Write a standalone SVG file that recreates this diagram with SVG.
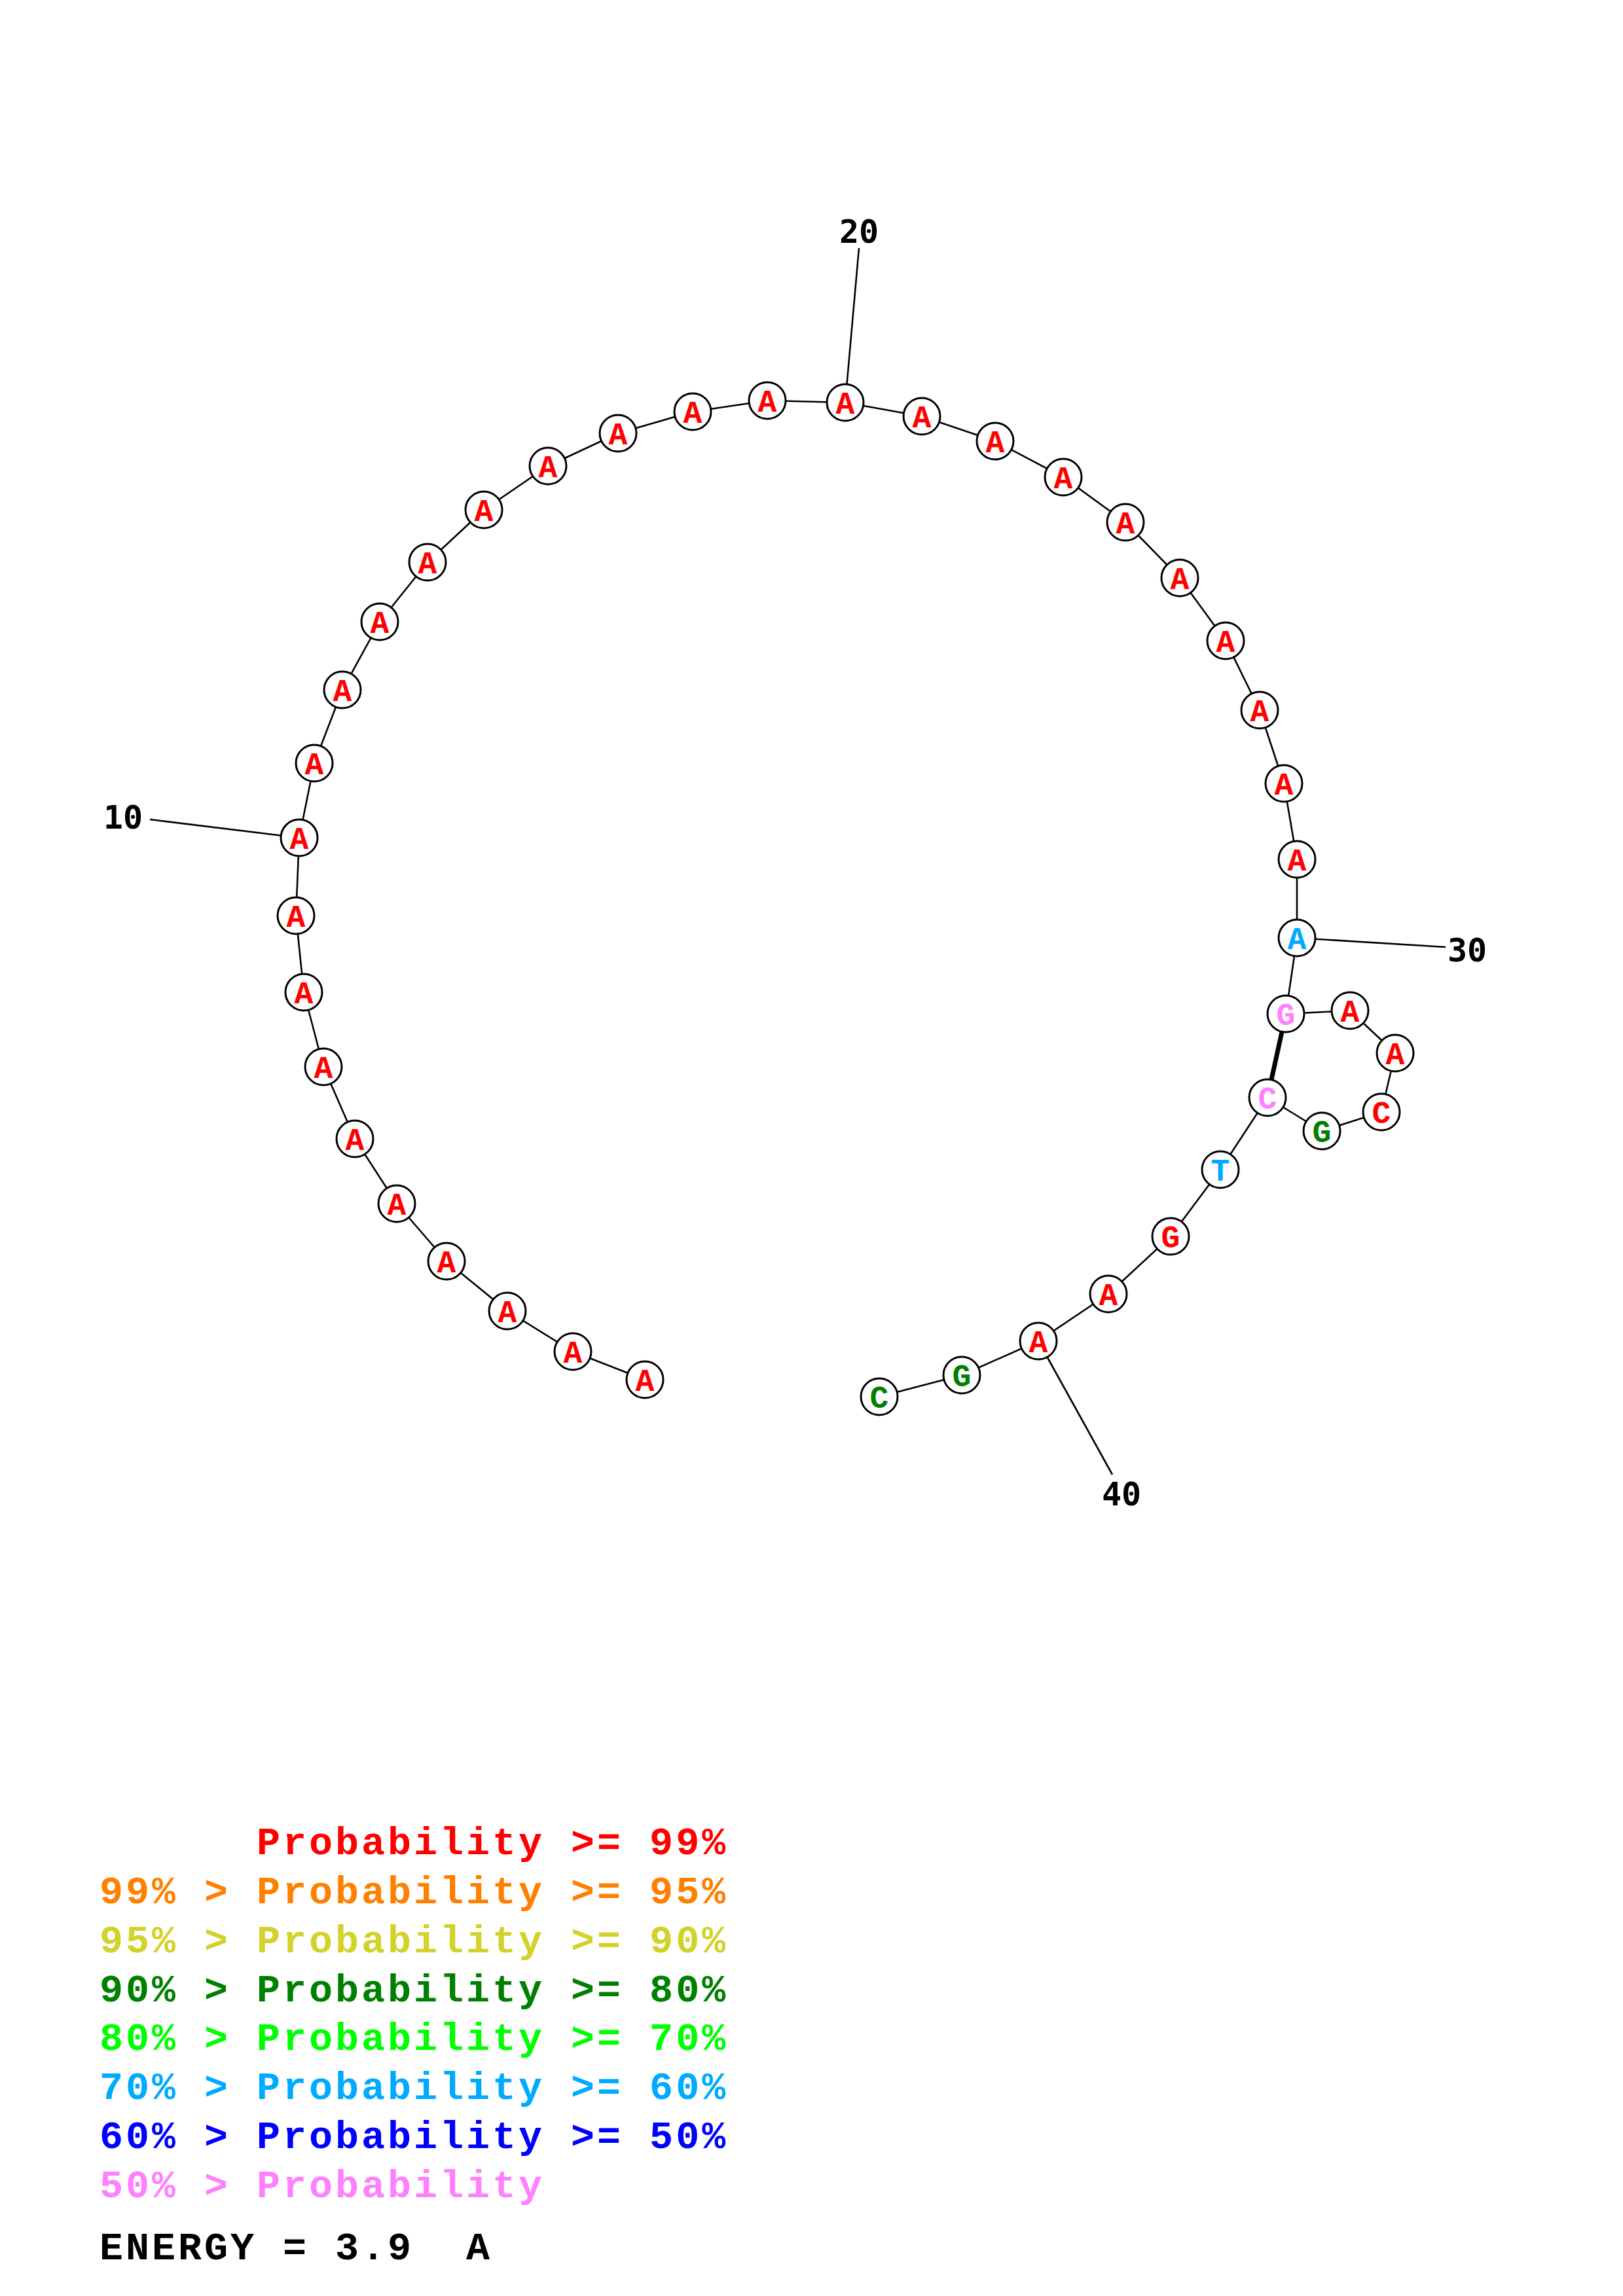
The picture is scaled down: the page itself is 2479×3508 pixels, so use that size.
<svg xmlns="http://www.w3.org/2000/svg" width="2479" height="3508" viewBox="0 0 2479 3508">
<style>
.bb{fill:none;stroke:#000;stroke-width:2.6;stroke-linejoin:round}
.bp{stroke:#000;stroke-width:7}
.tick{stroke:#000;stroke-width:2.6}
circle{fill:#fff;stroke:#000;stroke-width:3}
.n{font-family:"Liberation Mono","Courier New",monospace;font-weight:bold;font-size:48px;text-anchor:middle}
.num{font-family:"DejaVu Sans Mono","Liberation Mono",monospace;font-weight:bold;font-size:50px;fill:#000}
.lg{font-family:"Liberation Mono","Courier New",monospace;font-weight:bold;font-size:60px;letter-spacing:4px;white-space:pre}
.r{fill:#FF0000}.o{fill:#FF8000}.y{fill:#D2D22A}.dg{fill:#008000}.lgn{fill:#00FF00}.lb{fill:#00AAFF}.b{fill:#0000FF}.p{fill:#FF80FF}.k{fill:#000}
</style>
<g id="connectors">
<path class="bb" d="M985 2108 L875 2065 L775 2003 L682 1927 L606 1839 L542 1740 L494 1630 L464 1516 L452 1399 L457 1280 L480 1166 L523 1054 L580 950 L653 859 L739 779 L837 712 L944 662 L1058 629 L1172 612 L1291 615 L1408 636 L1520 674 L1624 729 L1719 798 L1802 883 L1872 979 L1924 1085 L1961 1197 L1981 1313 L1981 1433 L1964 1549 L2062 1544 L2131 1609 L2110 1699 L2019 1728 L1936 1677 L1864 1787 L1788 1889 L1693 1977 L1586 2049 L1469 2101 L1343 2134"/>
<line class="bp" x1="1964" y1="1549" x2="1936" y2="1677"/>
<line class="tick" x1="457" y1="1280" x2="229" y2="1252"/>
<line class="tick" x1="1291" y1="615" x2="1312" y2="379"/>
<line class="tick" x1="1981" y1="1433" x2="2208" y2="1447"/>
<line class="tick" x1="1586" y1="2049" x2="1699" y2="2253"/>
</g>
<g id="n1"><circle cx="985" cy="2108" r="28"/><text class="n r" x="985" y="2125">A</text></g>
<g id="n2"><circle cx="875" cy="2065" r="28"/><text class="n r" x="875" y="2082">A</text></g>
<g id="n3"><circle cx="775" cy="2003" r="28"/><text class="n r" x="775" y="2020">A</text></g>
<g id="n4"><circle cx="682" cy="1927" r="28"/><text class="n r" x="682" y="1944">A</text></g>
<g id="n5"><circle cx="606" cy="1839" r="28"/><text class="n r" x="606" y="1856">A</text></g>
<g id="n6"><circle cx="542" cy="1740" r="28"/><text class="n r" x="542" y="1757">A</text></g>
<g id="n7"><circle cx="494" cy="1630" r="28"/><text class="n r" x="494" y="1647">A</text></g>
<g id="n8"><circle cx="464" cy="1516" r="28"/><text class="n r" x="464" y="1533">A</text></g>
<g id="n9"><circle cx="452" cy="1399" r="28"/><text class="n r" x="452" y="1416">A</text></g>
<g id="n10"><circle cx="457" cy="1280" r="28"/><text class="n r" x="457" y="1297">A</text></g>
<g id="n11"><circle cx="480" cy="1166" r="28"/><text class="n r" x="480" y="1183">A</text></g>
<g id="n12"><circle cx="523" cy="1054" r="28"/><text class="n r" x="523" y="1071">A</text></g>
<g id="n13"><circle cx="580" cy="950" r="28"/><text class="n r" x="580" y="967">A</text></g>
<g id="n14"><circle cx="653" cy="859" r="28"/><text class="n r" x="653" y="876">A</text></g>
<g id="n15"><circle cx="739" cy="779" r="28"/><text class="n r" x="739" y="796">A</text></g>
<g id="n16"><circle cx="837" cy="712" r="28"/><text class="n r" x="837" y="729">A</text></g>
<g id="n17"><circle cx="944" cy="662" r="28"/><text class="n r" x="944" y="679">A</text></g>
<g id="n18"><circle cx="1058" cy="629" r="28"/><text class="n r" x="1058" y="646">A</text></g>
<g id="n19"><circle cx="1172" cy="612" r="28"/><text class="n r" x="1172" y="629">A</text></g>
<g id="n20"><circle cx="1291" cy="615" r="28"/><text class="n r" x="1291" y="632">A</text></g>
<g id="n21"><circle cx="1408" cy="636" r="28"/><text class="n r" x="1408" y="653">A</text></g>
<g id="n22"><circle cx="1520" cy="674" r="28"/><text class="n r" x="1520" y="691">A</text></g>
<g id="n23"><circle cx="1624" cy="729" r="28"/><text class="n r" x="1624" y="746">A</text></g>
<g id="n24"><circle cx="1719" cy="798" r="28"/><text class="n r" x="1719" y="815">A</text></g>
<g id="n25"><circle cx="1802" cy="883" r="28"/><text class="n r" x="1802" y="900">A</text></g>
<g id="n26"><circle cx="1872" cy="979" r="28"/><text class="n r" x="1872" y="996">A</text></g>
<g id="n27"><circle cx="1924" cy="1085" r="28"/><text class="n r" x="1924" y="1102">A</text></g>
<g id="n28"><circle cx="1961" cy="1197" r="28"/><text class="n r" x="1961" y="1214">A</text></g>
<g id="n29"><circle cx="1981" cy="1313" r="28"/><text class="n r" x="1981" y="1330">A</text></g>
<g id="n30"><circle cx="1981" cy="1433" r="28"/><text class="n lb" x="1981" y="1450">A</text></g>
<g id="n31"><circle cx="1964" cy="1549" r="28"/><text class="n p" x="1964" y="1566">G</text></g>
<g id="n32"><circle cx="2062" cy="1544" r="28"/><text class="n r" x="2062" y="1561">A</text></g>
<g id="n33"><circle cx="2131" cy="1609" r="28"/><text class="n r" x="2131" y="1626">A</text></g>
<g id="n34"><circle cx="2110" cy="1699" r="28"/><text class="n r" x="2110" y="1716">C</text></g>
<g id="n35"><circle cx="2019" cy="1728" r="28"/><text class="n dg" x="2019" y="1745">G</text></g>
<g id="n36"><circle cx="1936" cy="1677" r="28"/><text class="n p" x="1936" y="1694">C</text></g>
<g id="n37"><circle cx="1864" cy="1787" r="28"/><text class="n lb" x="1864" y="1804">T</text></g>
<g id="n38"><circle cx="1788" cy="1889" r="28"/><text class="n r" x="1788" y="1906">G</text></g>
<g id="n39"><circle cx="1693" cy="1977" r="28"/><text class="n r" x="1693" y="1994">A</text></g>
<g id="n40"><circle cx="1586" cy="2049" r="28"/><text class="n r" x="1586" y="2066">A</text></g>
<g id="n41"><circle cx="1469" cy="2101" r="28"/><text class="n dg" x="1469" y="2118">G</text></g>
<g id="n42"><circle cx="1343" cy="2134" r="28"/><text class="n dg" x="1343" y="2151">C</text></g>
<g id="numbering">
<text class="num" x="158" y="1266">10</text>
<text class="num" x="1282" y="371">20</text>
<text class="num" x="2211" y="1469">30</text>
<text class="num" x="1683" y="2300">40</text>
</g>
<g id="legend">
<text class="lg r" x="152" y="2833">      Probability &gt;= 99%</text>
<text class="lg o" x="152" y="2908">99% &gt; Probability &gt;= 95%</text>
<text class="lg y" x="152" y="2983">95% &gt; Probability &gt;= 90%</text>
<text class="lg dg" x="152" y="3058">90% &gt; Probability &gt;= 80%</text>
<text class="lg lgn" x="152" y="3132">80% &gt; Probability &gt;= 70%</text>
<text class="lg lb" x="152" y="3207">70% &gt; Probability &gt;= 60%</text>
<text class="lg b" x="152" y="3282">60% &gt; Probability &gt;= 50%</text>
<text class="lg p" x="152" y="3357">50% &gt; Probability</text>
<text class="lg k" x="152" y="3452">ENERGY = 3.9  A</text>
</g>
</svg>
